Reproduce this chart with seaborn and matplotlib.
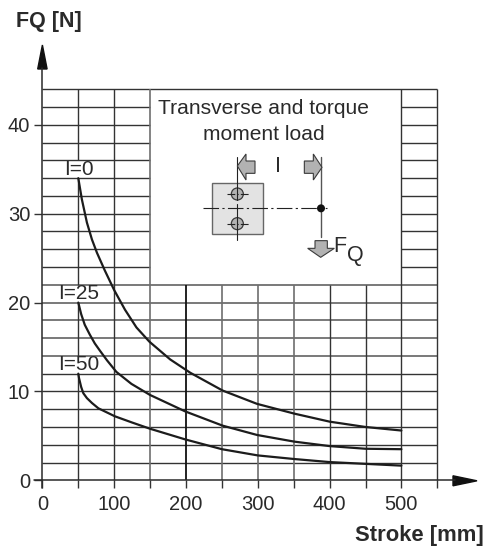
import matplotlib
matplotlib.use("Agg")
import matplotlib.pyplot as plt
from matplotlib.patches import Polygon, Circle, Rectangle
import pandas as pd
import seaborn as sns

# curves
stroke_l0 = [50, 55, 62, 69, 76, 87, 100, 115, 131, 149, 178, 206, 251, 299, 351, 400, 450, 500]
force_l0 = [34, 31.6, 29, 27.1, 25.6, 23.6, 21.4, 19.2, 17.2, 15.6, 13.6, 12.1, 10.1, 8.6, 7.5, 6.6, 6.0, 5.6]
stroke_l25 = [50, 54, 59, 66, 73, 80, 90, 103, 124, 150, 199, 251, 299, 351, 400, 450, 500]
force_l25 = [20, 18.7, 17.5, 16.4, 15.4, 14.6, 13.5, 12.2, 10.85, 9.6, 7.75, 6.15, 5.1, 4.35, 3.85, 3.55, 3.5]
stroke_l50 = [50, 51, 54, 57, 62, 69, 78, 101, 125, 150, 199, 250, 300, 350, 400, 450, 500]
force_l50 = [12, 11.5, 10.5, 9.8, 9.25, 8.7, 8.1, 7.2, 6.5, 5.8, 4.6, 3.5, 2.8, 2.4, 2.05, 1.85, 1.65]

curve_labels = ["I=0", "I=25", "I=50"]
x_ticks = [0, 50, 100, 150, 200, 250, 300, 350, 400, 450, 500, 550]
x_tick_labels = ["0", "", "100", "", "200", "", "300", "", "400", "", "500", ""]
y_ticks = [0, 10, 20, 30, 40]
h_short = [24, 26, 28, 30, 32, 34, 36, 38, 40, 42]
h_long = [2, 4, 6, 8, 10, 12, 14, 16, 18, 20, 22]

W, H = 486, 548
sns.set_style("white")
plt.rcParams["font.family"] = ["Liberation Sans", "DejaVu Sans"]
ink = "#2a2a2a"
grid = "#333333"
soft = "#6e6e6e"

fig = plt.figure(figsize=(W / 100, H / 100), dpi=100)
left, right, top, bottom = 42.4, 437.3, 89.3, 480.3
ax = fig.add_axes([left / W, 1 - bottom / H, (right - left) / W, (bottom - top) / H])
ax.set_xlim(0, 550)
ax.set_ylim(0, 44)
sns.despine(ax=ax, left=True, bottom=True, right=True, top=True)

# grid, with the hole for the white inset box
glw = 1.0
ax.hlines(h_long[:6], 0, 550, color=grid, lw=glw, zorder=1)
ax.hlines(h_long[6:], 0, 550, color=soft, lw=1.3, zorder=1)
ax.hlines(h_short, 0, 150, color=grid, lw=glw, zorder=1)
ax.hlines(h_short, 500, 550, color=grid, lw=glw, zorder=1)
ax.hlines(44, 0, 550, color=grid, lw=glw, zorder=1, clip_on=False)
for lo, hi in [(36, 44), (22, 34), (14, 20), (0, 12)]:
    ax.vlines(50, lo, hi, color=grid, lw=glw, zorder=1)
ax.vlines([100, 500, 550], 0, 44, color=grid, lw=glw, zorder=1, clip_on=False)
ax.vlines(150, 0, 44, color=soft, lw=1.2, zorder=1)
ax.vlines([250, 300, 350], 0, 22, color=soft, lw=1.2, zorder=1)
ax.vlines([400, 450], 0, 22, color=grid, lw=glw, zorder=1)
ax.vlines(200, 0, 22, color="#111111", lw=1.3, zorder=1)

for xs, ys in [(stroke_l0, force_l0), (stroke_l25, force_l25), (stroke_l50, force_l50)]:
    df = pd.DataFrame({"stroke": xs, "force": ys})
    sns.lineplot(data=df, x="stroke", y="force", ax=ax, color="#1c1c1c", lw=1.6,
                 estimator=None, sort=False, zorder=3)

for label, yl in zip(curve_labels, [35.0, 21.0, 13.0]):
    ax.text(51, yl, label, ha="center", va="center", fontsize=15, color=ink, zorder=4)

ax.set_xlabel("")
ax.set_ylabel("")
ax.set_xticks(x_ticks, x_tick_labels)
ax.set_yticks(y_ticks)
ax.tick_params(axis="both", length=5.8, width=1.0, color=grid, labelcolor=ink,
               labelsize=14.5, left=True, bottom=True)
ax.tick_params(axis="x", pad=5)
ax.tick_params(axis="y", pad=3)

# everything outside the data area goes on an overlay in pixel coordinates
ov = fig.add_axes([0, 0, 1, 1])
ov.set_xlim(0, W)
ov.set_ylim(H, 0)
ov.axis("off")
ov.patch.set_alpha(0)

ov.plot([left, left], [68, bottom + 8], color=ink, lw=1.1)
ov.plot([left - 8, 455], [bottom, bottom], color=ink, lw=1.1)
ov.add_patch(Polygon([(left, 45), (left - 4.7, 69), (left + 4.7, 69)], color="#111111"))
ov.add_patch(Polygon([(477, bottom + 0.5), (453, bottom - 4.5), (453, bottom + 5.5)], color="#111111"))

ov.text(16, 22, "FQ [N]", fontsize=15.5, fontweight="bold", color=ink, ha="left", va="center")
ov.text(484, 536, "Stroke [mm]", fontsize=15.8, fontweight="bold", color=ink, ha="right", va="center")

ov.text(263.5, 108, "Transverse and torque", fontsize=15.1, color=ink, ha="center", va="center")
ov.text(263.5, 135, "moment load", fontsize=15.1, color=ink, ha="center", va="center")


def zp(zx, zy):
    return 140 + zx / 3, 80 + zy / 3


fill = "#b2b2b2"
edge = "#3a3a3a"
x0, y0 = zp(215, 310)
x1, y1 = zp(368, 462)
ov.add_patch(Rectangle((x0, y0), x1 - x0, y1 - y0, fc="#e3e3e3", ec="#666666", lw=1.0))
for cy in [342, 431]:
    cx_, cy_ = zp(292, cy)
    ov.add_patch(Circle((cx_, cy_), 6, fc=fill, ec=edge, lw=0.9))
    ov.plot([cx_ - 10, cx_ + 12], [cy_, cy_], color="#222222", lw=0.8, ls=(0, (7, 2, 1, 2)))
lx, ly0 = zp(292, 230)
_, ly1 = zp(292, 360)
_, ly2 = zp(292, 372)
_, ly3 = zp(292, 480)
ov.plot([lx, lx], [ly0, ly1], color="#222222", lw=0.8)
ov.plot([lx, lx], [ly2, ly3], color="#222222", lw=0.8)
sx0, sy = zp(188, 385)
sx1, _ = zp(560, 385)
ov.plot([sx0, sx1], [sy, sy], color="#222222", lw=0.8, ls=(0, (14, 3, 2, 3)))
dx, dy = zp(543, 385)
_, vy0 = zp(543, 230)
_, vy1 = zp(543, 472)
ov.plot([dx, dx], [vy0, vy1], color="#555555", lw=1.0)
ov.add_patch(Circle((dx, dy), 4, fc="#111111", ec="none", zorder=5))

left_arrow = [(292, 258), (318, 222), (318, 243), (345, 243), (345, 280), (318, 280), (318, 300)]
right_arrow = [(546, 262), (520, 222), (520, 243), (493, 243), (493, 280), (520, 280), (520, 300)]
down_arrow = [(542, 532), (503, 505), (525, 505), (525, 482), (562, 482), (562, 505), (583, 505)]
for shape in [left_arrow, right_arrow, down_arrow]:
    ov.add_patch(Polygon([zp(a, b) for a, b in shape], fc=fill, ec=edge, lw=0.8, zorder=4))

ov.text(*zp(415, 258), "I", fontsize=15.5, color=ink, ha="center", va="center")
ov.text(*zp(600, 500), "F", fontsize=15.5, color=ink, ha="center", va="center")
ov.text(*zp(647, 525), "Q", fontsize=15.5, color=ink, ha="center", va="center")

fig.savefig("out.png", dpi=100)
